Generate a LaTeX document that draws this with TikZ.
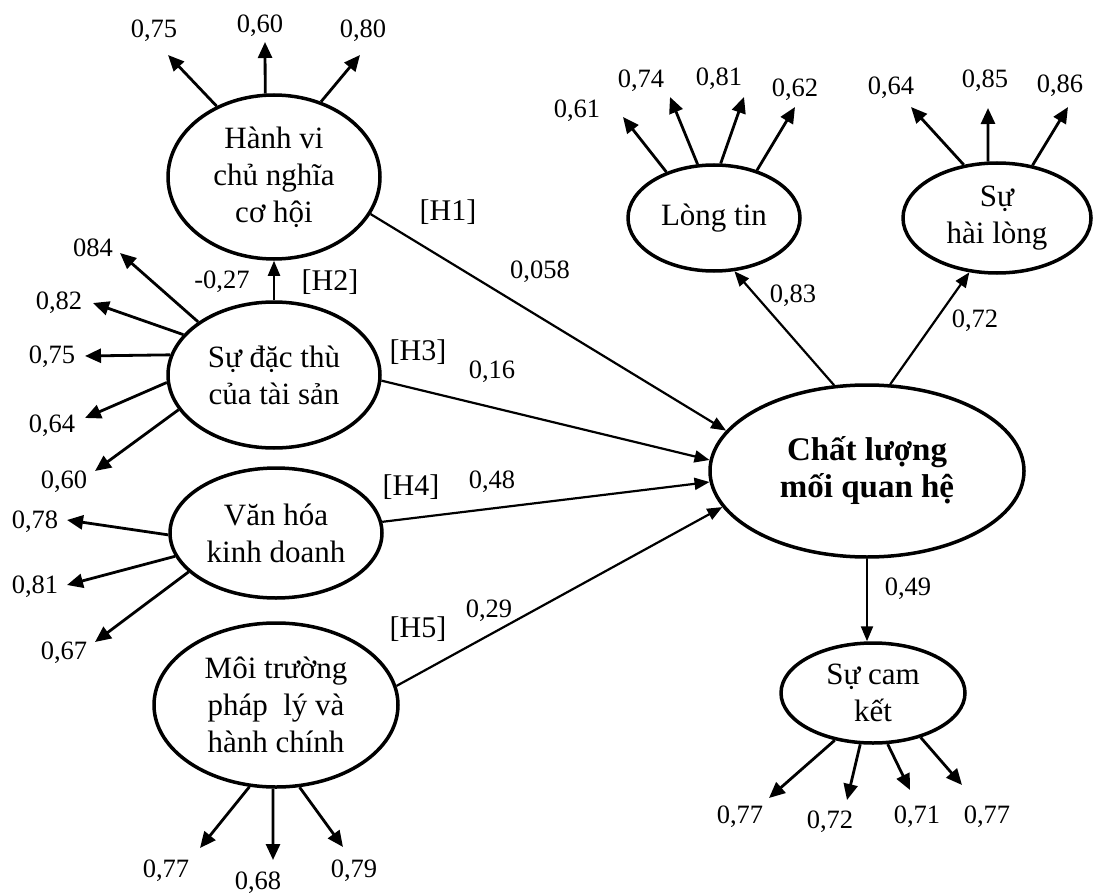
\documentclass[tikz,border=0pt]{standalone}
\usepackage{fontspec}
\setmainfont{Liberation Serif}
\usetikzlibrary{shapes.geometric,arrows.meta}
\begin{document}
\begin{tikzpicture}[x=1pt,y=-1pt,
 lat/.style={ellipse, draw, line width=3.5pt, inner sep=0pt, align=center, font=\fontsize{31}{37}\selectfont},
 ind/.style={line width=2.8pt, -{Triangle[length=16pt,width=14pt]}},
 pth/.style={line width=2.2pt, -{Triangle[length=15pt,width=12pt]}},
 num/.style={anchor=base, font=\fontsize{26.5}{30}\selectfont, inner sep=0pt},
 hyp/.style={anchor=base, font=\fontsize{30}{34}\selectfont, inner sep=0pt}]
\useasboundingbox (0,0) rectangle (1097,896);

% latent variables
\node[lat, minimum width=212pt, minimum height=164pt] (hv) at (274,177) {Hành vi\\chủ nghĩa\\cơ hội};
\node[lat, minimum width=212pt, minimum height=146pt] (dt) at (274,375) {Sự đặc thù\\của tài sản};
\node[lat, minimum width=212pt, minimum height=130pt] (vh) at (276,533) {Văn hóa\\kinh doanh};
\node[lat, minimum width=244pt, minimum height=164pt] (mt) at (276,705) {Môi trường\\pháp\ \ lý và\\hành chính};
\node[lat, minimum width=172pt, minimum height=106pt] (lt) at (714,218) {Lòng tin};
\node[lat, minimum width=188pt, minimum height=110pt] (hl) at (997,218) {Sự\\hài lòng};
\node[lat, minimum width=314pt, minimum height=172pt, font=\bfseries\fontsize{33}{37}\selectfont] (cl) at (867,471) {Chất lượng\\mối quan hệ};
\node[lat, minimum width=184pt, minimum height=100pt] (ck) at (873,693) {Sự cam\\kết};

% indicator tips
\coordinate (hv1) at (168,55);  \coordinate (hv2) at (265,42);  \coordinate (hv3) at (360,55);
\coordinate (dt1) at (120,253); \coordinate (dt2) at (93,303);  \coordinate (dt3) at (85,356);
\coordinate (dt4) at (85,418);  \coordinate (dt5) at (95,471);
\coordinate (vh1) at (67,520);  \coordinate (vh2) at (67,585);  \coordinate (vh3) at (95,642);
\coordinate (mt1) at (200,848); \coordinate (mt2) at (273,860); \coordinate (mt3) at (343,847);
\coordinate (lt1) at (623,117); \coordinate (lt2) at (670,97);  \coordinate (lt3) at (744,97); \coordinate (lt4) at (795,107);
\coordinate (hl1) at (911,107); \coordinate (hl2) at (988,108); \coordinate (hl3) at (1068,107);
\coordinate (ck1) at (769,798); \coordinate (ck2) at (847,800); \coordinate (ck3) at (910,790); \coordinate (ck4) at (962,785);

% indicator arrows
\draw[ind] (hv.129.6) -- (hv1);
\draw[ind] (hv.96.3) -- (hv2);
\draw[ind] (hv.58.1) -- (hv3);
\draw[ind] (dt.145.5) -- (dt1);
\draw[ind] (dt.156.9) -- (dt2);
\draw[ind] (dt.169.6) -- (dt3);
\draw[ind] (dt.184.9) -- (dt4);
\draw[ind] (dt.200.4) -- (dt5);
\draw[ind] (vh.181.1) -- (vh1);
\draw[ind] (vh.193.4) -- (vh2);
\draw[ind] (vh.204.3) -- (vh3);
\draw[ind] (mt.252.4) -- (mt1);
\draw[ind] (mt.268) -- (mt2);
\draw[ind] (mt.286.3) -- (mt3);
\draw[ind] (lt.136.3) -- (lt1);
\draw[ind] (lt.107.1) -- (lt2);
\draw[ind] (lt.83.5) -- (lt3);
\draw[ind] (lt.48.3) -- (lt4);
\draw[ind] (hl.122.1) -- (hl1);
\draw[ind] (hl.99.3) -- (hl2);
\draw[ind] (hl.56.6) -- (hl3);
\draw[ind] (ck.231) -- (ck1);
\draw[ind] (ck.256) -- (ck2);
\draw[ind] (ck.286.4) -- (ck3);
\draw[ind] (ck.317.4) -- (ck4);

% structural paths
\draw[pth] (hv.339.4) -- (cl.164.6);
\draw[pth] (dt.357.3) -- (cl.176.7);
\draw[pth] (vh.6.2) -- (cl.184.7);
\draw[pth] (mt.9.1) -- (cl.194.5);
\draw[pth] (dt) -- (hv);
\draw[pth] (cl.111.6) -- (lt.291.3);
\draw[pth] (cl.75.2) -- (hl.243.4);
\draw[pth] (cl.south) -- (cl.south |- ck.north);

% indicator loadings
\node[num] (l1) at (154,38) {0,75};
\node[num] (l2) at (260,33) {0,60};
\node[num] (l3) at (363,38) {0,80};
\node[num] (l4) at (93,256) {084};
\node[num] (l5) at (59,309) {0,82};
\node[num] (l6) at (52,363) {0,75};
\node[num] (l7) at (52,432) {0,64};
\node[num] (l8) at (64,488) {0,60};
\node[num] (l9) at (35,528) {0,78};
\node[num] (l10) at (35,593) {0,81};
\node[num] (l11) at (64,659) {0,67};
\node[num] (l12) at (166,877) {0,77};
\node[num] (l13) at (258,889) {0,68};
\node[num] (l14) at (354,877) {0,79};
\node[num] (l15) at (577,118) {0,61};
\node[num] (l16) at (641,88) {0,74};
\node[num] (l17) at (719,86) {0,81};
\node[num] (l18) at (795,97) {0,62};
\node[num] (l19) at (891,95) {0,64};
\node[num] (l20) at (985,88) {0,85};
\node[num] (l21) at (1060,93) {0,86};
\node[num] (l22) at (740,823) {0,77};
\node[num] (l23) at (830,828) {0,72};
\node[num] (l24) at (917,823) {0,71};
\node[num] (l25) at (987,823) {0,77};

% path coefficients
\node[num] (c1) at (540,278) {0,058};
\node[num] (c2) at (492,378) {0,16};
\node[num] (c3) at (492,488) {0,48};
\node[num] (c4) at (489,617) {0,29};
\node[num] (c5) at (222,288) {-0,27};
\node[num] (c6) at (793,302) {0,83};
\node[num] (c7) at (975,327) {0,72};
\node[num] (c8) at (908,595) {0,49};

% hypotheses
\node[hyp] (h1) at (448,220) {[H1]};
\node[hyp] (h2) at (330,290) {[H2]};
\node[hyp] (h3) at (418,360) {[H3]};
\node[hyp] (h4) at (411,495) {[H4]};
\node[hyp] (h5) at (418,637) {[H5]};
\end{tikzpicture}
\end{document}
